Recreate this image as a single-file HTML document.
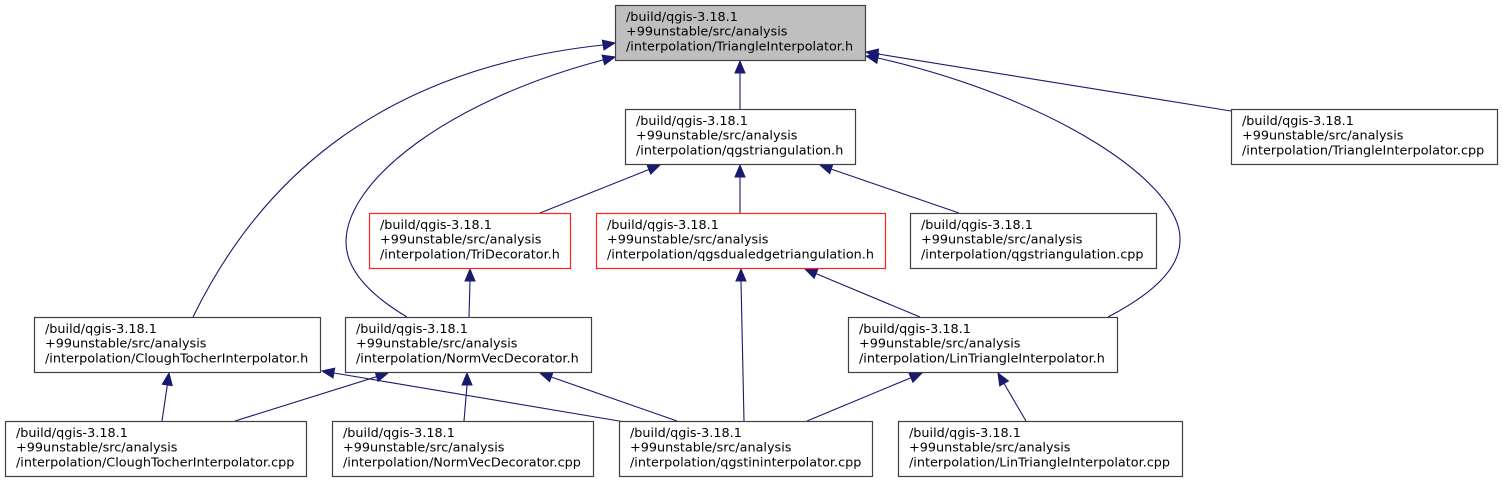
<!DOCTYPE html>
<html>
<head>
<meta charset="utf-8">
<style>
html,body{margin:0;padding:0;background:#fff;}
svg{display:block;}
text{font-family:"DejaVu Sans","Liberation Sans",sans-serif;font-size:12.8px;fill:#000;}
</style>
</head>
<body>
<svg width="1503" height="483" viewBox="0 0 1503 483" xmlns="http://www.w3.org/2000/svg">
<rect x="0" y="0" width="1503" height="483" fill="#fff"/>

<!-- edges -->
<g fill="none" stroke="#191970" stroke-width="1.1">
  <!-- A: CT.h -> TI.h -->
  <path d="M193,317 C255,190 370,70 603,45"/>
  <!-- B: NV.h -> TI.h -->
  <path d="M407,317 C370,295 346,270 346,242 C346,180 450,100 603,60"/>
  <!-- C -->
  <path d="M740,73 L740,109"/>
  <!-- D -->
  <path d="M878,54 L1231,111"/>
  <!-- E: LT.h -> TI.h -->
  <path d="M1108,317 C1150,295 1180,270 1180,240 C1182,185 1060,100 878,58"/>
  <!-- F -->
  <path d="M540,213 L649,169.5"/>
  <!-- G -->
  <path d="M740,177 L740,213"/>
  <!-- H -->
  <path d="M959,213 L831,169"/>
  <!-- I -->
  <path d="M470,281 L469,317"/>
  <!-- J -->
  <path d="M741,281 L744,421"/>
  <!-- K -->
  <path d="M920,317 L816,273.6"/>
  <!-- L -->
  <path d="M162,421 L167.3,385"/>
  <!-- M -->
  <path d="M625,422 L334,373"/>
  <!-- N -->
  <path d="M235,421 L376.6,376.7"/>
  <!-- O -->
  <path d="M464,421 L467,385"/>
  <!-- P -->
  <path d="M677,421 L551.3,377"/>
  <!-- Q -->
  <path d="M807,421 L911,377.7"/>
  <!-- R -->
  <path d="M1026,421 L1004,383.4"/>
</g>

<!-- arrowheads -->
<g fill="#191970" stroke="#191970" stroke-width="1">
  <polygon points="615,43 604.0,49.9 602.3,40.1"/>
  <polygon points="615,57 604.6,64.8 602.1,55.1"/>
  <polygon points="740,61 735,73 745,73"/>
  <polygon points="866,52 878.6,49.0 877.0,58.8"/>
  <polygon points="866,56 878.8,53.5 876.8,63.3"/>
  <polygon points="660,165 650.7,174.1 647.0,164.8"/>
  <polygon points="740,165 735,177 745,177"/>
  <polygon points="820,165 832.9,164.2 829.7,173.6"/>
  <polygon points="470,269 465,281 475,281"/>
  <polygon points="741,269 736,281 746,281"/>
  <polygon points="805,269 818.0,269.0 814.1,278.2"/>
  <polygon points="169,373 172.2,385.6 162.3,384.2"/>
  <polygon points="322,371 334.7,368.1 333.0,377.9"/>
  <polygon points="388,373 378.1,381.4 375.1,371.9"/>
  <polygon points="467,373 462,385 472,385"/>
  <polygon points="540,373 553.0,372.3 549.6,381.7"/>
  <polygon points="922,373 912.9,382.3 909.0,373.1"/>
  <polygon points="998,373 1008.4,380.9 999.7,385.9"/>
</g>

<!-- nodes -->
<g stroke-width="1.2">
  <rect x="615.5" y="5.5" width="250" height="55" fill="#bfbfbf" stroke="#404040"/>
  <rect x="625.5" y="109.5" width="230" height="55" fill="#fff" stroke="#404040"/>
  <rect x="1231.5" y="109.5" width="266" height="55" fill="#fff" stroke="#404040"/>
  <rect x="369.5" y="213.5" width="201" height="55" fill="#fff" stroke="#ff2020"/>
  <rect x="596.5" y="213.5" width="289" height="55" fill="#fff" stroke="#ff2020"/>
  <rect x="910.5" y="213.5" width="246" height="55" fill="#fff" stroke="#404040"/>
  <rect x="34.5" y="317.5" width="286" height="55" fill="#fff" stroke="#404040"/>
  <rect x="345.5" y="317.5" width="246" height="55" fill="#fff" stroke="#404040"/>
  <rect x="848.5" y="317.5" width="269" height="55" fill="#fff" stroke="#404040"/>
  <rect x="5.5" y="421.5" width="301" height="55" fill="#fff" stroke="#404040"/>
  <rect x="332.5" y="421.5" width="261" height="55" fill="#fff" stroke="#404040"/>
  <rect x="619.5" y="421.5" width="253" height="55" fill="#fff" stroke="#404040"/>
  <rect x="898.5" y="421.5" width="284" height="55" fill="#fff" stroke="#404040"/>
</g>

<!-- labels -->
<g>
  <text x="626" y="21">/build/qgis-3.18.1</text>
  <text x="626" y="35.7">+99unstable/src/analysis</text>
  <text x="626" y="50.3">/interpolation/TriangleInterpolator.h</text>

  <text x="636" y="125">/build/qgis-3.18.1</text>
  <text x="636" y="139.7">+99unstable/src/analysis</text>
  <text x="636" y="154.3">/interpolation/qgstriangulation.h</text>

  <text x="1242" y="125">/build/qgis-3.18.1</text>
  <text x="1242" y="139.7">+99unstable/src/analysis</text>
  <text x="1242" y="154.3">/interpolation/TriangleInterpolator.cpp</text>

  <text x="380" y="229">/build/qgis-3.18.1</text>
  <text x="380" y="243.7">+99unstable/src/analysis</text>
  <text x="380" y="258.3">/interpolation/TriDecorator.h</text>

  <text x="607" y="229">/build/qgis-3.18.1</text>
  <text x="607" y="243.7">+99unstable/src/analysis</text>
  <text x="607" y="258.3">/interpolation/qgsdualedgetriangulation.h</text>

  <text x="921" y="229">/build/qgis-3.18.1</text>
  <text x="921" y="243.7">+99unstable/src/analysis</text>
  <text x="921" y="258.3">/interpolation/qgstriangulation.cpp</text>

  <text x="45" y="333">/build/qgis-3.18.1</text>
  <text x="45" y="347.7">+99unstable/src/analysis</text>
  <text x="45" y="362.3">/interpolation/CloughTocherInterpolator.h</text>

  <text x="356" y="333">/build/qgis-3.18.1</text>
  <text x="356" y="347.7">+99unstable/src/analysis</text>
  <text x="356" y="362.3">/interpolation/NormVecDecorator.h</text>

  <text x="859" y="333">/build/qgis-3.18.1</text>
  <text x="859" y="347.7">+99unstable/src/analysis</text>
  <text x="859" y="362.3">/interpolation/LinTriangleInterpolator.h</text>

  <text x="16" y="437">/build/qgis-3.18.1</text>
  <text x="16" y="451.7">+99unstable/src/analysis</text>
  <text x="16" y="466.3">/interpolation/CloughTocherInterpolator.cpp</text>

  <text x="343" y="437">/build/qgis-3.18.1</text>
  <text x="343" y="451.7">+99unstable/src/analysis</text>
  <text x="343" y="466.3">/interpolation/NormVecDecorator.cpp</text>

  <text x="630" y="437">/build/qgis-3.18.1</text>
  <text x="630" y="451.7">+99unstable/src/analysis</text>
  <text x="630" y="466.3">/interpolation/qgstininterpolator.cpp</text>

  <text x="909" y="437">/build/qgis-3.18.1</text>
  <text x="909" y="451.7">+99unstable/src/analysis</text>
  <text x="909" y="466.3">/interpolation/LinTriangleInterpolator.cpp</text>
</g>
</svg>
</body>
</html>
